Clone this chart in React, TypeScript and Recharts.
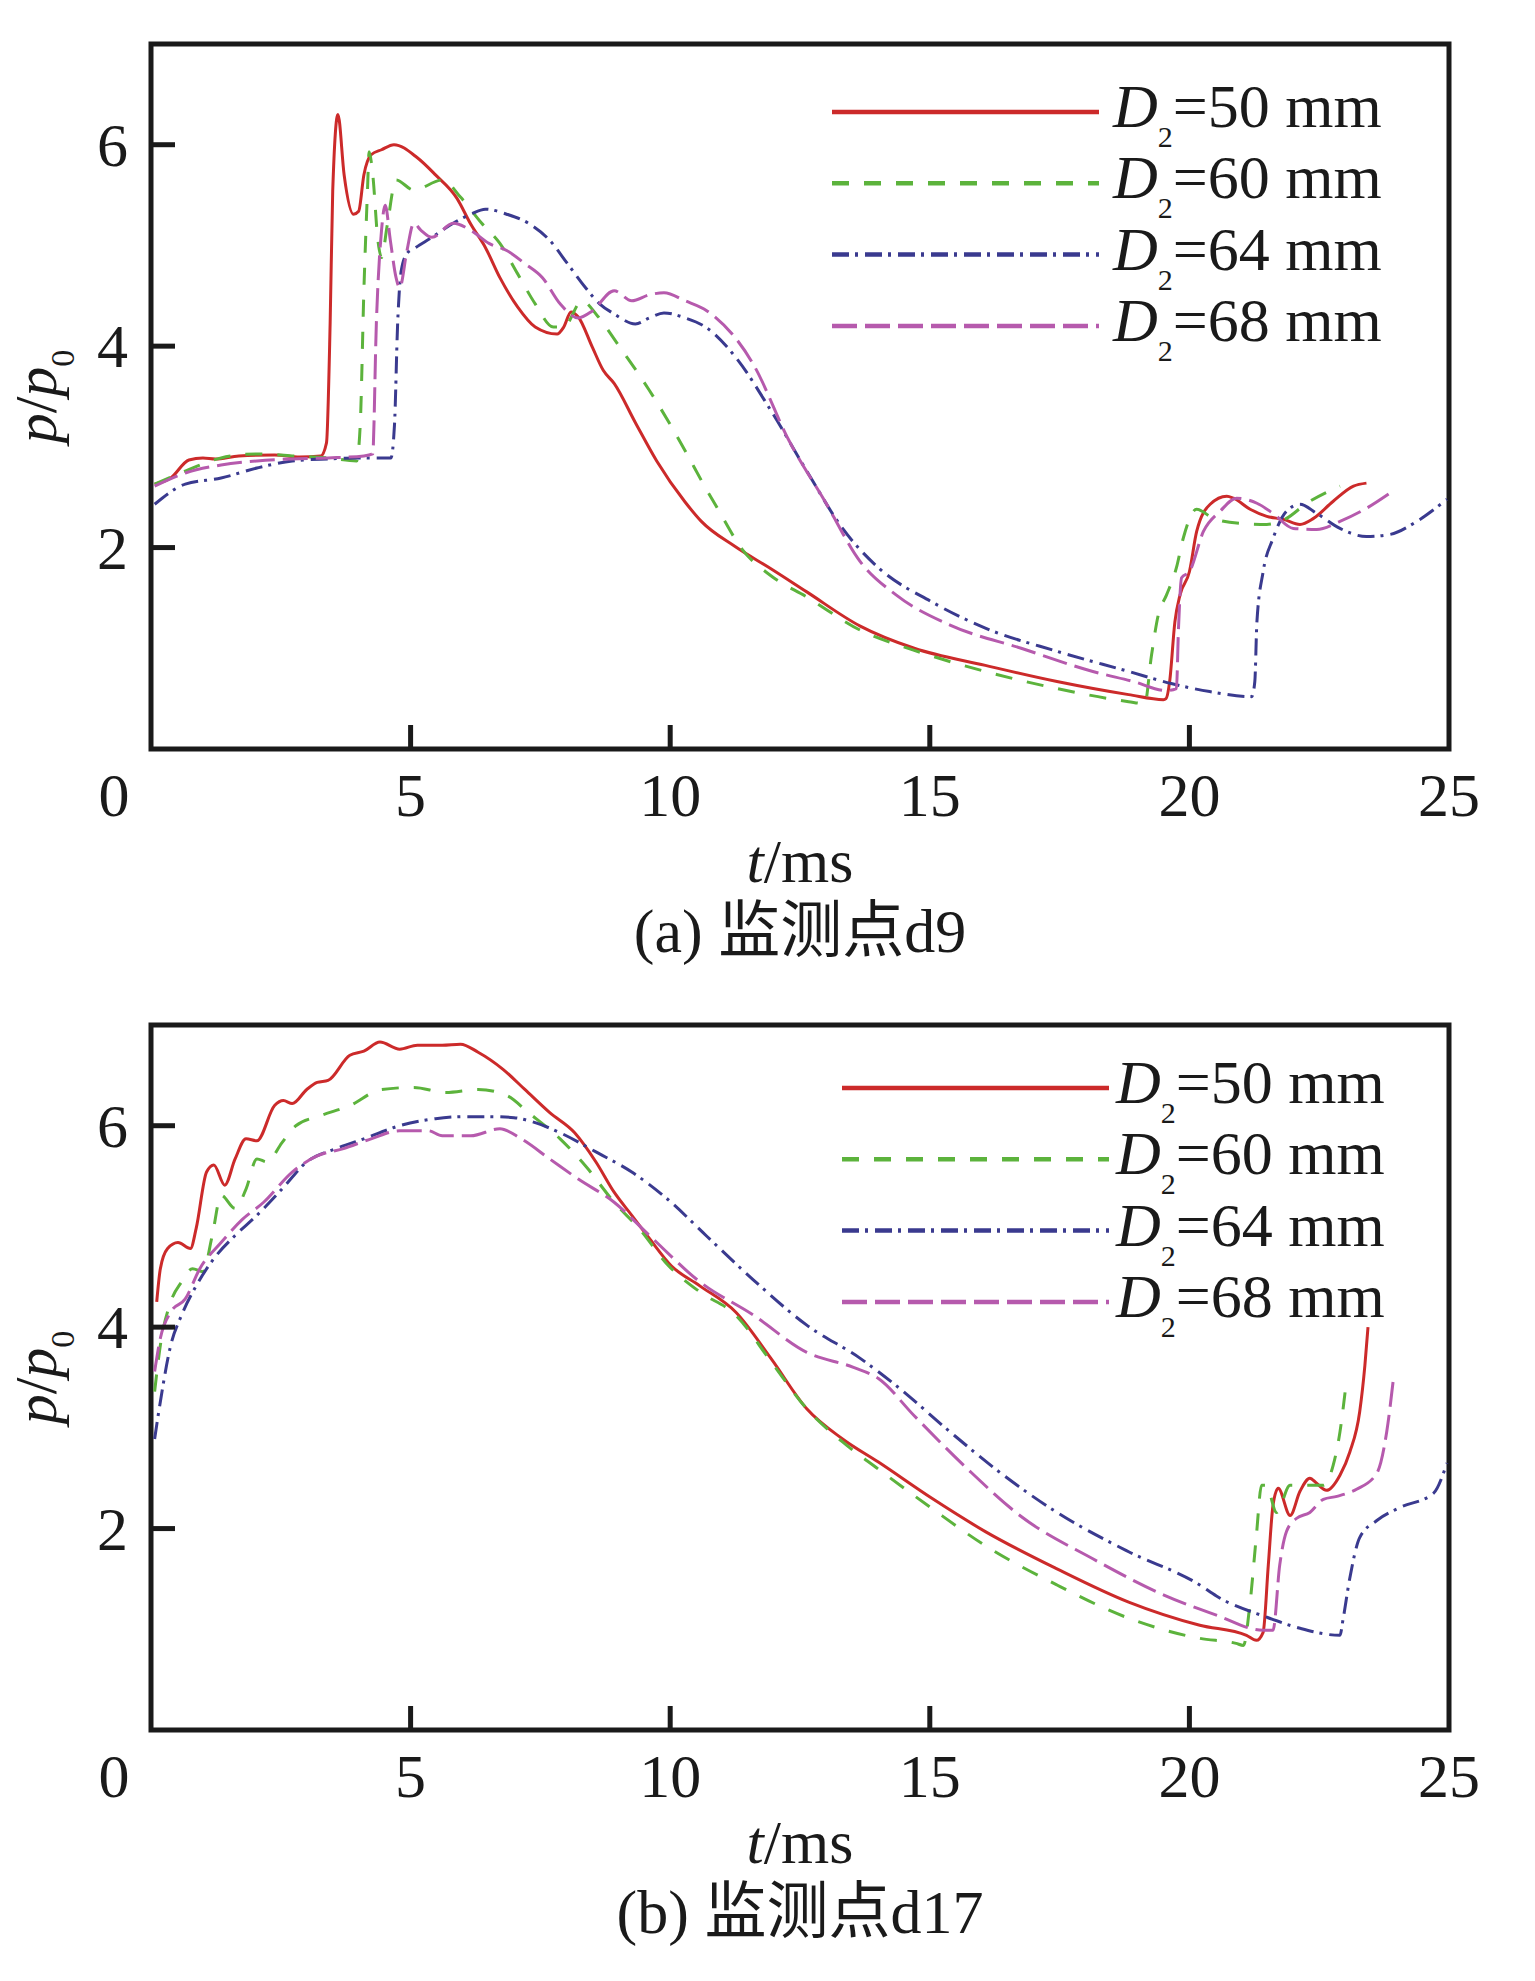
import { LineChart, Line, XAxis, YAxis, ReferenceArea, Legend, Label } from 'recharts';

// axis ticks
const T_TICKS = [0, 5, 10, 15, 20, 25];
const P_TICKS = [2, 4, 6];
const DIAMETERS = ['50', '60', '64', '68'];

// (a) monitoring point d9, pairs of [t (ms), p/p0]
const D9_50 = [
  [0.07, 2.63], [0.38, 2.69], [0.73, 2.87], [1.0, 2.89], [1.24, 2.88], [1.69, 2.91], [2.38, 2.92],
  [2.86, 2.9], [3.27, 2.91], [3.38, 3.04], [3.45, 4.22], [3.5, 5.54], [3.6, 6.3], [3.72, 5.7],
  [3.9, 5.31], [4.0, 5.34], [4.1, 5.7], [4.24, 5.9], [4.44, 5.95], [4.68, 6.0], [5.13, 5.87],
  [5.48, 5.7], [5.89, 5.47], [6.16, 5.21], [6.44, 4.98], [6.72, 4.68], [7.06, 4.39], [7.4, 4.19],
  [7.82, 4.12], [7.95, 4.19], [8.09, 4.34], [8.23, 4.29], [8.5, 3.99], [8.71, 3.76], [8.92, 3.63],
  [9.33, 3.24], [9.74, 2.86], [10.29, 2.45], [10.6, 2.26], [11.25, 2.01], [11.94, 1.79], [12.63, 1.56],
  [13.66, 1.22], [14.7, 1.0], [16.07, 0.83], [17.45, 0.67], [18.83, 0.54], [19.5, 0.49], [19.55, 0.5],
  [19.62, 0.67], [19.72, 1.26], [19.82, 1.53], [20.0, 1.76], [20.14, 2.16], [20.4, 2.43], [20.72, 2.51],
  [20.85, 2.49], [21.17, 2.38], [21.49, 2.31], [21.81, 2.28], [22.13, 2.23], [22.39, 2.29], [22.77, 2.46],
  [23.16, 2.61], [23.41, 2.64],
];
const D9_60 = [
  [0.07, 2.63], [0.66, 2.76], [1.35, 2.89], [2.04, 2.93], [2.72, 2.91], [3.41, 2.89], [3.96, 2.86],
  [4.03, 3.22], [4.1, 4.55], [4.17, 5.55], [4.2, 5.93], [4.27, 5.71], [4.37, 5.05], [4.44, 4.88],
  [4.55, 5.2], [4.72, 5.65], [5.06, 5.55], [5.62, 5.65], [5.96, 5.48], [6.37, 5.22], [6.72, 5.02],
  [7.06, 4.72], [7.4, 4.42], [7.75, 4.19], [7.95, 4.19], [8.3, 4.45], [8.6, 4.3], [8.99, 4.02],
  [9.6, 3.56], [10.29, 2.96], [10.64, 2.63], [10.91, 2.39], [11.39, 1.98], [11.94, 1.72], [12.63, 1.51],
  [13.66, 1.18], [14.7, 0.98], [16.07, 0.77], [17.45, 0.6], [18.83, 0.47], [19.14, 0.45], [19.27, 0.93],
  [19.4, 1.33], [19.56, 1.53], [19.75, 1.8], [19.88, 2.09], [20.14, 2.38], [20.46, 2.29], [20.97, 2.24],
  [21.49, 2.23], [21.87, 2.29], [22.26, 2.44], [22.77, 2.58], [22.9, 2.61],
];
const D9_64 = [
  [0.07, 2.43], [0.66, 2.63], [1.35, 2.69], [2.04, 2.79], [2.72, 2.86], [3.41, 2.88], [4.1, 2.89],
  [4.62, 2.89], [4.69, 3.22], [4.75, 4.22], [4.82, 4.75], [4.93, 4.92], [5.1, 4.98], [5.41, 5.08],
  [5.82, 5.22], [6.16, 5.31], [6.44, 5.36], [6.85, 5.31], [7.27, 5.22], [7.68, 5.05], [8.02, 4.82],
  [8.37, 4.58], [8.64, 4.42], [8.92, 4.32], [9.33, 4.22], [9.6, 4.28], [9.88, 4.33], [10.29, 4.28],
  [10.71, 4.18], [11.26, 3.89], [11.94, 3.36], [12.63, 2.76], [13.32, 2.19], [14.01, 1.8], [15.04, 1.46],
  [16.07, 1.2], [17.45, 0.97], [18.83, 0.77], [19.65, 0.65], [20.39, 0.57], [21.2, 0.52], [21.26, 0.67],
  [21.3, 1.26], [21.42, 1.76], [21.61, 2.09], [21.87, 2.36], [22.13, 2.43], [22.45, 2.34], [22.9, 2.19],
  [23.41, 2.11], [23.86, 2.13], [24.38, 2.26], [24.96, 2.48],
];
const D9_68 = [
  [0.07, 2.61], [0.66, 2.74], [1.35, 2.82], [2.04, 2.86], [2.72, 2.88], [3.41, 2.89], [4.1, 2.91],
  [4.27, 2.93], [4.34, 4.22], [4.44, 5.15], [4.51, 5.4], [4.61, 5.05], [4.72, 4.68], [4.79, 4.58],
  [4.93, 4.95], [5.06, 5.22], [5.2, 5.15], [5.41, 5.08], [5.82, 5.22], [6.16, 5.15], [6.51, 5.02],
  [6.85, 4.95], [7.2, 4.82], [7.54, 4.68], [7.88, 4.42], [8.23, 4.28], [8.5, 4.35], [8.92, 4.55],
  [9.26, 4.45], [9.6, 4.51], [9.88, 4.53], [10.29, 4.45], [10.71, 4.35], [11.6, 3.82], [12.29, 3.06],
  [12.98, 2.46], [13.66, 1.86], [14.35, 1.53], [15.39, 1.23], [16.76, 1.0], [18.14, 0.77], [18.92, 0.67],
  [19.56, 0.58], [19.75, 0.6], [19.79, 1.2], [19.85, 1.7], [20.0, 1.76], [20.27, 2.16], [20.59, 2.36],
  [20.91, 2.49], [21.3, 2.44], [21.61, 2.34], [22.0, 2.19], [22.45, 2.18], [22.9, 2.26], [23.41, 2.39],
  [23.86, 2.54],
];

// (b) monitoring point d17
const D17_50 = [
  [0.11, 4.25], [0.18, 4.58], [0.32, 4.78], [0.52, 4.84], [0.76, 4.78], [0.87, 4.98], [1.07, 5.54],
  [1.21, 5.61], [1.42, 5.41], [1.62, 5.67], [1.83, 5.87], [2.04, 5.85], [2.38, 6.2], [2.55, 6.25],
  [2.72, 6.22], [3.0, 6.36], [3.2, 6.43], [3.41, 6.45], [3.83, 6.7], [4.1, 6.74], [4.41, 6.83],
  [4.79, 6.76], [5.13, 6.8], [5.61, 6.8], [5.96, 6.81], [6.3, 6.73], [6.78, 6.56], [7.2, 6.36],
  [7.68, 6.13], [8.16, 5.93], [8.57, 5.64], [8.92, 5.34], [9.26, 5.11], [9.6, 4.88], [10.02, 4.61],
  [10.57, 4.41], [11.26, 4.15], [11.94, 3.69], [12.63, 3.19], [13.32, 2.89], [14.01, 2.66], [15.04, 2.3],
  [16.07, 1.97], [17.45, 1.6], [18.83, 1.27], [20.2, 1.04], [21.1, 0.94], [21.29, 0.89], [21.42, 0.97],
  [21.52, 1.64], [21.61, 2.23], [21.71, 2.4], [21.94, 2.13], [22.13, 2.37], [22.32, 2.5], [22.45, 2.45],
  [22.64, 2.38], [22.9, 2.53], [23.09, 2.76], [23.28, 3.16], [23.38, 3.62], [23.44, 4.0],
];
const D17_60 = [
  [0.07, 3.36], [0.18, 3.82], [0.38, 4.25], [0.59, 4.45], [0.8, 4.58], [1.0, 4.55], [1.18, 4.91],
  [1.35, 5.31], [1.62, 5.18], [1.83, 5.37], [2.04, 5.67], [2.24, 5.64], [2.52, 5.83], [2.79, 6.0],
  [3.27, 6.1], [3.83, 6.2], [4.44, 6.36], [5.06, 6.38], [5.68, 6.33], [6.3, 6.36], [6.85, 6.3],
  [7.27, 6.13], [7.88, 5.87], [8.37, 5.6], [8.92, 5.24], [9.4, 4.98], [9.95, 4.62], [10.57, 4.35],
  [11.26, 4.12], [11.94, 3.66], [12.63, 3.19], [13.32, 2.86], [14.01, 2.59], [15.04, 2.2], [16.07, 1.83],
  [17.45, 1.44], [18.83, 1.11], [20.2, 0.91], [20.9, 0.86], [21.04, 0.84], [21.17, 1.27], [21.29, 1.93],
  [21.39, 2.43], [21.48, 2.43], [21.68, 2.16], [21.94, 2.43], [22.32, 2.43], [22.58, 2.43], [22.77, 2.63],
  [22.9, 2.96], [23.0, 3.36],
];
const D17_64 = [
  [0.07, 2.89], [0.18, 3.26], [0.38, 3.82], [0.59, 4.12], [0.87, 4.41], [1.21, 4.68], [1.62, 4.91],
  [2.04, 5.11], [2.52, 5.37], [3.0, 5.64], [3.55, 5.77], [4.1, 5.87], [4.79, 6.0], [5.48, 6.07],
  [6.03, 6.09], [6.51, 6.09], [6.99, 6.08], [7.4, 6.03], [7.88, 5.93], [8.57, 5.74], [9.26, 5.54],
  [9.95, 5.27], [10.71, 4.9], [11.6, 4.47], [12.63, 4.02], [13.66, 3.69], [14.35, 3.42], [15.39, 2.96],
  [16.42, 2.53], [17.45, 2.16], [18.83, 1.77], [20.2, 1.44], [20.52, 1.33], [21.49, 1.12], [22.13, 1.01],
  [22.9, 0.94], [22.96, 1.1], [23.09, 1.51], [23.28, 1.91], [23.61, 2.08], [24.06, 2.21], [24.7, 2.35],
  [24.96, 2.65],
];
const D17_68 = [
  [0.07, 3.56], [0.18, 3.89], [0.38, 4.15], [0.66, 4.28], [0.94, 4.58], [1.35, 4.84], [1.76, 5.07],
  [2.17, 5.24], [2.72, 5.54], [3.2, 5.7], [3.69, 5.77], [4.24, 5.87], [4.79, 5.95], [5.34, 5.95],
  [5.61, 5.9], [6.16, 5.9], [6.72, 5.97], [7.13, 5.87], [7.68, 5.67], [8.23, 5.47], [8.92, 5.24],
  [9.6, 4.91], [10.57, 4.45], [11.6, 4.12], [12.63, 3.75], [13.53, 3.6], [14.01, 3.49], [14.7, 3.12],
  [15.73, 2.59], [16.76, 2.12], [18.14, 1.7], [19.51, 1.34], [20.52, 1.14], [21.42, 0.99], [21.61, 0.99],
  [21.74, 1.64], [21.87, 1.97], [22.06, 2.1], [22.32, 2.16], [22.58, 2.29], [22.84, 2.32], [23.22, 2.39],
  [23.61, 2.55], [23.8, 2.96], [23.93, 3.49],
];

const LINE_STYLES = [
  { color: '#cc2a2a', dash: undefined },
  { color: '#5cb33c', dash: '17 15' },
  { color: '#3a3a8f', dash: '17 6 3 7' },
  { color: '#b65aad', dash: '25 8' },
];

const FONT = "'Liberation Serif', 'Times New Roman', 'Noto Sans CJK SC', serif";
const INK = '#1a1a1a';
const FS = 62;
const TICK_LEN = 24;

const PLOT_TOP = 44;
const PLOT_BOTTOM = 749;
const PLOT_LEFT = 151;
const PLOT_RIGHT = 1449;
const WIDTH = 1535;

const toRows = (pts: number[][]) => pts.map(([t, p]) => ({ t, p }));

const TimeTick = ({ x, y, payload }: any) => {
  const v = payload.value;
  return (
    <g>
      {v > 0 && v < 25 && (
        <line x1={x} x2={x} y1={y} y2={y - TICK_LEN} stroke={INK} strokeWidth={5} />
      )}
      <text x={v === 0 ? x - 37 : x} y={y + 67} textAnchor="middle" fontFamily={FONT} fontSize={FS} fill={INK}>
        {v}
      </text>
    </g>
  );
};

const PressureTick = ({ x, y, payload }: any) => (
  <g>
    <line x1={x} x2={x + TICK_LEN} y1={y} y2={y} stroke={INK} strokeWidth={5} />
    <text x={x - 23} y={y + 21} textAnchor="end" fontFamily={FONT} fontSize={FS} fill={INK}>
      {payload.value}
    </text>
  </g>
);

type Props = {
  series: number[][][];
  caption: string;
  height: number;
  legendY: number;
  legendX0: number;
  legendX1: number;
  legendTextX: number;
};

const PressureChart = ({ series, caption, height, legendY, legendX0, legendX1, legendTextX }: Props) => {
  const renderLegend = () => (
    <svg width={WIDTH} height={400} style={{ display: 'block', pointerEvents: 'none' }}>
      {DIAMETERS.map((d, i) => {
        const y = legendY + i * 71.3;
        const st = LINE_STYLES[i];
        return (
          <g key={d}>
            <line x1={legendX0} x2={legendX1} y1={y} y2={y} stroke={st.color} strokeWidth={4.5} strokeDasharray={st.dash} />
            <text x={legendTextX} y={y + 15} fontFamily={FONT} fontSize={FS} fill={INK}>
              <tspan fontStyle="italic">D</tspan>
              <tspan fontSize={30} dy={20}>2</tspan>
              <tspan dy={-20}>={d} mm</tspan>
            </text>
          </g>
        );
      })}
    </svg>
  );

  const renderXLabel = ({ viewBox }: any) => {
    const cx = viewBox.x + viewBox.width / 2;
    return (
      <g>
        <text x={cx} y={viewBox.y + 133} textAnchor="middle" fontFamily={FONT} fontSize={FS} fill={INK}>
          <tspan fontStyle="italic">t</tspan>/ms
        </text>
        <text x={cx} y={viewBox.y + 203} textAnchor="middle" fontFamily={FONT} fontSize={FS} fill={INK}>
          {caption}
        </text>
      </g>
    );
  };

  const renderYLabel = ({ viewBox }: any) => {
    const cy = viewBox.y + viewBox.height / 2;
    const bx = 56;
    return (
      <text x={bx} y={cy} transform={`rotate(-90 ${bx} ${cy})`} textAnchor="middle" fontFamily={FONT} fontSize={60} fill={INK}>
        <tspan fontStyle="italic">p</tspan>
        <tspan>/</tspan>
        <tspan fontStyle="italic">p</tspan>
        <tspan fontSize={34} dy={18}>0</tspan>
      </text>
    );
  };

  return (
    <LineChart
      width={WIDTH}
      height={height}
      margin={{ top: PLOT_TOP, right: WIDTH - PLOT_RIGHT, bottom: height - PLOT_BOTTOM - 30, left: PLOT_LEFT - 60 }}
    >
      <XAxis
        type="number"
        dataKey="t"
        domain={[0, 25]}
        ticks={T_TICKS}
        allowDataOverflow
        height={30}
        axisLine={false}
        tickLine={false}
        tickSize={0}
        tickMargin={0}
        tick={<TimeTick />}
        interval={0}
      >
        <Label content={renderXLabel} />
      </XAxis>
      <YAxis
        type="number"
        domain={[0, 7]}
        ticks={P_TICKS}
        allowDataOverflow
        width={60}
        axisLine={false}
        tickLine={false}
        tickSize={0}
        tickMargin={0}
        tick={<PressureTick />}
        interval={0}
      >
        <Label content={renderYLabel} />
      </YAxis>
      <ReferenceArea x1={0} x2={25} y1={0} y2={7} fill="none" stroke={INK} strokeWidth={5} ifOverflow="visible" />
      {series.map((pts, i) => (
        <Line
          key={DIAMETERS[i]}
          data={toRows(pts)}
          dataKey="p"
          type="monotone"
          stroke={LINE_STYLES[i].color}
          strokeWidth={3}
          strokeDasharray={LINE_STYLES[i].dash}
          dot={false}
          activeDot={false}
          isAnimationActive={false}
        />
      ))}
      <Legend
        layout="vertical"
        align="center"
        verticalAlign="middle"
        content={renderLegend}
        wrapperStyle={{ left: 0, top: 0, width: WIDTH, height: 400 }}
      />
    </LineChart>
  );
};

export default function App() {
  return (
    <div style={{ position: 'absolute', left: 0, top: 0, width: WIDTH, height: 1981, background: '#fff' }}>
      <div style={{ position: 'absolute', left: 0, top: 0 }}>
        <PressureChart
          series={[D9_50, D9_60, D9_64, D9_68]}
          caption="(a) 监测点d9"
          height={981}
          legendY={112}
          legendX0={832}
          legendX1={1099}
          legendTextX={1113}
        />
      </div>
      <div style={{ position: 'absolute', left: 0, top: 981 }}>
        <PressureChart
          series={[D17_50, D17_60, D17_64, D17_68]}
          caption="(b) 监测点d17"
          height={1000}
          legendY={107}
          legendX0={842}
          legendX1={1109}
          legendTextX={1116}
        />
      </div>
    </div>
  );
}
